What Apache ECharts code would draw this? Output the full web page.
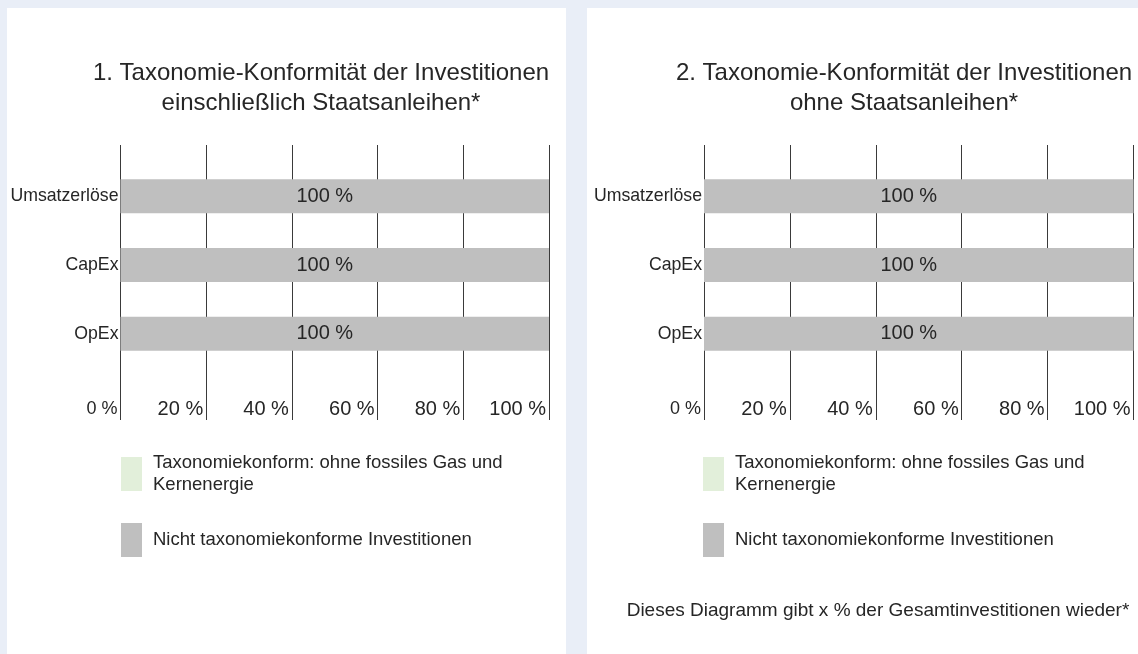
<!DOCTYPE html>
<html>
<head>
<meta charset="utf-8">
<script src="https://cdn.jsdelivr.net/npm/echarts@6/dist/echarts.min.js"></script>
<style>
  html, body { margin: 0; padding: 0; background: #e9eef7; }
  #chart { width: 1138px; height: 654px; }
</style>
</head>
<body>
<div id="chart"></div>
<script>
// data
var categories = ["Umsatzerlöse", "CapEx", "OpEx"];
var greenLeft = [0, 0, 0];       // Taxonomiekonform (ohne fossiles Gas und Kernenergie)
var greyLeft = [100, 100, 100];  // Nicht taxonomiekonform
var greenRight = [0, 0, 0];
var greyRight = [100, 100, 100];
var tickValues = [0, 20, 40, 60, 80, 100];

var titleLeft = "1. Taxonomie-Konformität der Investitionen\neinschließlich Staatsanleihen*";
var titleRight = "2. Taxonomie-Konformität der Investitionen\nohne Staatsanleihen*";
var nameGreen = "Taxonomiekonform: ohne fossiles Gas und\nKernenergie";
var nameGrey = "Nicht taxonomiekonforme Investitionen";
var footnote = "Dieses Diagramm gibt x % der Gesamtinvestitionen wieder*";

var FONT = "Liberation Sans, Arial, sans-serif";
var TXT = "#262626";

var chart = echarts.init(document.getElementById("chart"));

function lineAxis(gridIndex) {
  return {
    type: "value",
    gridIndex: gridIndex,
    min: tickValues[0],
    max: tickValues[tickValues.length - 1],
    interval: 20,
    axisLine: { show: false },
    axisTick: { show: false },
    splitLine: { show: true, lineStyle: { color: "#3a3a3a", width: 1 } },
    axisLabel: {
      inside: true,
      margin: 11,
      verticalAlign: "middle",
      align: "right",
      padding: [0, 3, 0, 0],
      fontFamily: FONT,
      fontSize: 20,
      color: TXT,
      formatter: function (v) {
        return v === 0 ? "{s|0 %}" : v + " %";
      },
      rich: { s: { fontSize: 18, fontFamily: FONT, color: TXT } }
    }
  };
}

function barXAxis(gridIndex) {
  return { type: "value", gridIndex: gridIndex, min: 0, max: 100, show: false };
}

function catAxis(gridIndex) {
  return {
    type: "category",
    gridIndex: gridIndex,
    data: categories,
    inverse: true,
    axisLine: { show: false },
    axisTick: { show: false },
    axisLabel: { margin: 2, fontFamily: FONT, fontSize: 17.7, color: TXT }
  };
}

function hiddenY(gridIndex) {
  return { type: "category", gridIndex: gridIndex, data: categories, show: false };
}

function barSeries(name, data, color, idx, withLabel) {
  return {
    name: name,
    type: "bar",
    stack: "s" + idx,
    xAxisIndex: idx,
    yAxisIndex: idx,
    barWidth: 34,
    data: data,
    itemStyle: { color: color },
    label: {
      show: withLabel,
      position: "inside",
      offset: [-10, 0],
      fontFamily: FONT,
      fontSize: 20,
      color: TXT,
      formatter: "{c} %"
    }
  };
}

function legendFor(left) {
  return {
    orient: "vertical",
    left: left,
    top: 452,
    padding: 0,
    itemWidth: 21,
    itemHeight: 34,
    itemGap: 27,
    selectedMode: false,
    icon: "rect",
    data: [nameGreen, nameGrey],
    textStyle: {
      fontFamily: FONT,
      fontSize: 18.5,
      lineHeight: 22,
      color: TXT,
      padding: [0, 0, 0, 6]
    }
  };
}

var option = {
  backgroundColor: "#e9eef7",
  animation: false,
  graphic: [
    { type: "rect", z: -10, shape: { x: 7, y: 8, width: 559, height: 660 }, style: { fill: "#ffffff" } },
    { type: "rect", z: -10, shape: { x: 587, y: 8, width: 560, height: 660 }, style: { fill: "#ffffff" } }
  ],
  title: [
    {
      text: titleLeft, left: 316, top: 53, textAlign: "center",
      textStyle: { fontFamily: FONT, fontSize: 24, fontWeight: "normal", lineHeight: 30, color: TXT, align: "center" }
    },
    {
      text: titleRight, left: 899, top: 53, textAlign: "center",
      textStyle: { fontFamily: FONT, fontSize: 24, fontWeight: "normal", lineHeight: 30, color: TXT, align: "center" }
    },
    {
      text: footnote, left: 873, top: 596, textAlign: "center",
      textStyle: { fontFamily: FONT, fontSize: 19, fontWeight: "normal", color: TXT }
    }
  ],
  legend: [legendFor(121), legendFor(703)],
  grid: [
    { left: 120.5, width: 428.5, top: 145, height: 275 },
    { left: 120.5, width: 428.5, top: 162, height: 206 },
    { left: 704, width: 429.5, top: 145, height: 275 },
    { left: 704, width: 429.5, top: 162, height: 206 }
  ],
  xAxis: [lineAxis(0), barXAxis(1), lineAxis(2), barXAxis(3)],
  yAxis: [hiddenY(0), catAxis(1), hiddenY(2), catAxis(3)],
  series: [
    barSeries(nameGreen, greenLeft, "#e2efda", 1, false),
    barSeries(nameGrey, greyLeft, "#bfbfbf", 1, true),
    barSeries(nameGreen, greenRight, "#e2efda", 3, false),
    barSeries(nameGrey, greyRight, "#bfbfbf", 3, true)
  ]
};

chart.setOption(option);
</script>
</body>
</html>
